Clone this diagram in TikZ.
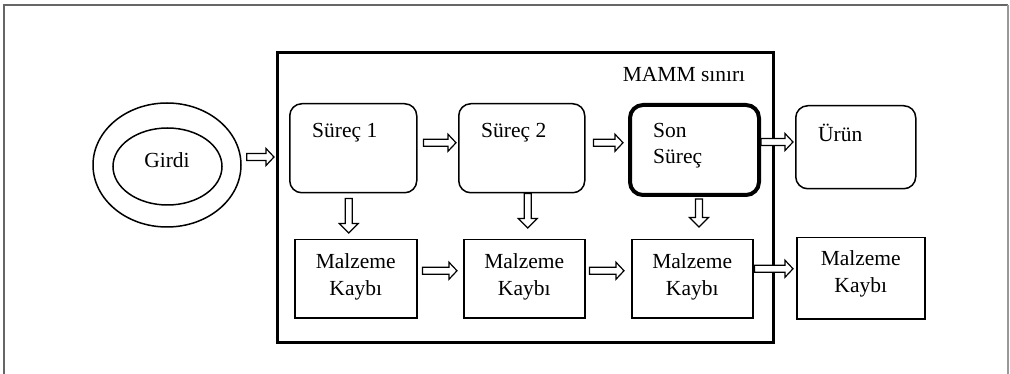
\documentclass[tikz,border=0pt]{standalone}
\usepackage{fontspec}
\setmainfont{Liberation Serif}
\usetikzlibrary{calc,shapes.geometric}
\newcommand\hbarrow[2]{\draw[barrow] let \p1=#1, \p2=#2 in
  (\x1,\y1+3.5pt) -- (\x2-8pt,\y1+3.5pt) -- (\x2-8pt,\y1+8.5pt) -- (\x2,\y1) --
  (\x2-8pt,\y1-8.5pt) -- (\x2-8pt,\y1-3.5pt) -- (\x1,\y1-3.5pt) -- cycle;}
\newcommand\vbarrow[2]{\draw[barrow] let \p1=#1, \p2=#2 in
  (\x1-3.5pt,\y1) -- (\x1-3.5pt,\y2+9.5pt) -- (\x1-9.5pt,\y2+9.5pt) -- (\x1,\y2) --
  (\x1+9.5pt,\y2+9.5pt) -- (\x1+3.5pt,\y2+9.5pt) -- (\x1+3.5pt,\y1) -- cycle;}
\tikzset{
  txt/.style={font=\fontsize{21.5}{26}\selectfont, inner sep=0pt, align=left},
  ctxt/.style={font=\fontsize{21.5}{27}\selectfont, align=center, inner sep=0pt},
  rbox/.style={draw, line width=1.5pt, rounded corners=12pt, anchor=north west, inner sep=0pt},
  sbox/.style={draw, line width=1.5pt, anchor=north west, inner sep=0pt},
  ell/.style={draw, ellipse, line width=1.5pt, inner sep=0pt},
  barrow/.style={draw, line width=1.2pt, fill=white, line join=miter},
  frame/.style={draw=black!60, line width=1.3pt},
}
\begin{document}
\begin{tikzpicture}[x=1pt,y=-1pt]
\useasboundingbox (0,0) rectangle (1010,374);
\draw[frame] (4,374) -- (4,5) -- (1008,5);
\draw[draw=black!40, line width=1.3pt] (1008,5) -- (1008,374);
% boundary
\node[sbox, line width=2.6pt, minimum width=496pt, minimum height=290pt] (mamm) at (276,51) {};
\node[txt] (mt) at (684,75) {MAMM sınırı};
% input
\node[ell, minimum width=148pt, minimum height=124pt] (go) at (167,165) {};
\node[ell, minimum width=109pt, minimum height=77pt] (gi) at (167.5,166.5) {};
\node[txt] (gt) at (167,160) {Girdi};
% process boxes
\node[rbox, minimum width=127pt, minimum height=89pt] (s1) at (289,103) {};
\node[rbox, minimum width=126pt, minimum height=89pt] (s2) at (458,103) {};
\node[rbox, line width=4pt, rounded corners=13pt, minimum width=129pt, minimum height=90pt] (son) at (628,103) {};
\node[rbox, minimum width=120pt, minimum height=83pt] (urun) at (795,105) {};
\node[txt, anchor=west] (s1t) at ($(s1.north west)+(23,30)$) {Süreç 1};
\node[txt, anchor=west] (s2t) at ($(s2.north west)+(23,30)$) {Süreç 2};
\node[txt, anchor=west] (sont) at ($(son.north west)+(25,43)$) {Son\\Süreç};
\node[txt, anchor=west] (urunt) at ($(urun.north west)+(23,28)$) {Ürün};
% loss boxes
\node[sbox, minimum width=122pt, minimum height=78pt] (mk1) at (294,239) {};
\node[sbox, minimum width=121pt, minimum height=78pt] (mk2) at (463,239) {};
\node[sbox, minimum width=121pt, minimum height=78pt] (mk3) at (631,239) {};
\node[sbox, minimum width=128pt, minimum height=81pt] (mk4) at (796,237) {};
\node[ctxt] (mk1t) at ($(mk1.center)+(0,-1.5)$) {Malzeme\\Kaybı};
\node[ctxt] (mk2t) at ($(mk2.center)+(0,-1.5)$) {Malzeme\\Kaybı};
\node[ctxt] (mk3t) at ($(mk3.center)+(0,-1.5)$) {Malzeme\\Kaybı};
\node[ctxt] (mk4t) at ($(mk4.center)+(0,-4)$) {Malzeme\\Kaybı};
% horizontal arrows
\hbarrow{($(go.east)+(5,-8)$)}{($(mamm.west)+(-2,0)$)}
\hbarrow{($(s1.east)+(6,-5.5)$)}{($(s2.west)+(-2,0)$)}
\hbarrow{($(s2.east)+(8,-5.5)$)}{($(son.west)+(-5,0)$)}
\hbarrow{($(son.east)+(0,-8)$)}{($(urun.west)+(-2,0)$)}
\hbarrow{($(mk1.east)+(5,-8)$)}{($(mk2.west)+(-6,0)$)}
\hbarrow{($(mk2.east)+(4,-8)$)}{($(mk3.west)+(-7,0)$)}
\hbarrow{($(mk3.east)+(1,-10)$)}{($(mk4.west)+(-3,0)$)}
% vertical arrows
\vbarrow{($(s1.south)+(-4.5,5)$)}{($(mk1.north)+(0,-6)$)}
\vbarrow{($(s2.south)+(6,0)$)}{($(mk2.north)+(0,-11)$)}
\vbarrow{($(son.south)+(4.5,2)$)}{($(mk3.north)+(0,-12)$)}
\end{tikzpicture}
\end{document}
